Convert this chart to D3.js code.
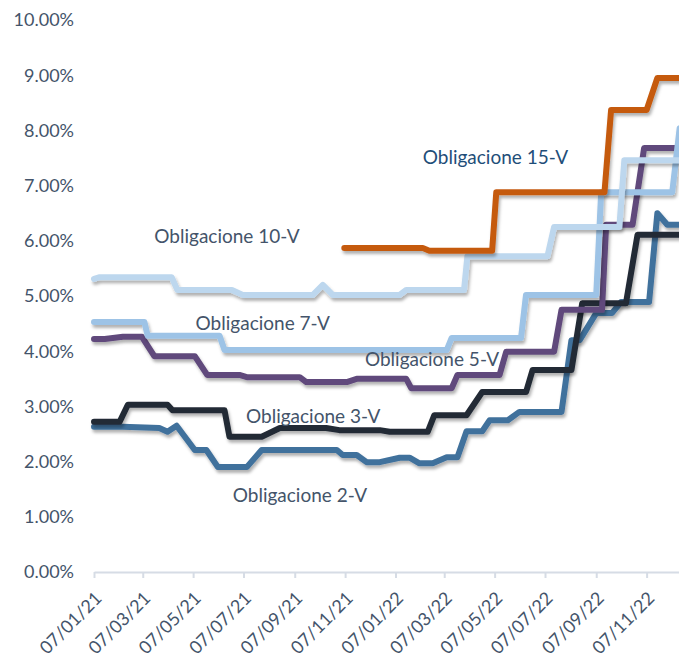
<!DOCTYPE html>
<html>
<head>
<meta charset="utf-8">
<script src="https://cdn.jsdelivr.net/npm/d3@7"></script>
<style>
  body { margin: 0; background: #fff; }
  svg text { font-family: Lato, "Open Sans", sans-serif; }
</style>
</head>
<body>
<div id="chart"></div>
<script>
// yields in %, [date, value]
var obl2V = [["2021-01-07",2.63],["2021-02-11",2.63],["2021-03-27",2.61],["2021-04-06",2.54],["2021-04-17",2.65],
  ["2021-05-09",2.21],["2021-05-23",2.21],["2021-06-06",1.90],["2021-07-11",1.90],["2021-07-29",2.21],
  ["2021-10-28",2.21],["2021-11-04",2.12],["2021-11-21",2.12],["2021-12-03",1.99],["2021-12-19",1.99],
  ["2022-01-12",2.07],["2022-01-24",2.07],["2022-02-05",1.97],["2022-02-21",1.97],["2022-03-10",2.08],
  ["2022-03-23",2.08],["2022-04-03",2.55],["2022-04-22",2.55],["2022-05-01",2.75],["2022-05-23",2.75],
  ["2022-06-06",2.90],["2022-07-27",2.90],["2022-08-08",4.20],["2022-08-18",4.20],["2022-09-07",4.69],
  ["2022-09-26",4.69],["2022-10-07",4.89],["2022-11-10",4.89],["2022-11-20",6.50],["2022-12-02",6.29],
  ["2022-12-29",6.29]];

var obl3V = [["2021-01-07",2.72],["2021-02-07",2.72],["2021-02-17",3.03],["2021-04-06",3.03],["2021-04-12",2.93],
  ["2021-06-14",2.93],["2021-06-20",2.45],["2021-07-29",2.45],["2021-08-20",2.61],["2021-10-15",2.61],
  ["2021-10-31",2.57],["2021-12-19",2.57],["2021-12-31",2.54],["2022-02-15",2.54],["2022-02-23",2.84],
  ["2022-04-03",2.84],["2022-04-22",3.26],["2022-06-14",3.26],["2022-06-22",3.66],["2022-08-08",3.66],
  ["2022-08-21",4.87],["2022-10-13",4.87],["2022-10-27",6.11],["2022-12-29",6.11]];

var obl5V = [["2021-01-07",4.22],["2021-01-20",4.22],["2021-02-11",4.26],["2021-03-06",4.26],["2021-03-21",3.91],
  ["2021-05-09",3.91],["2021-05-24",3.57],["2021-07-02",3.57],["2021-07-11",3.53],["2021-09-13",3.53],
  ["2021-09-21",3.44],["2021-11-09",3.44],["2021-11-21",3.50],["2022-01-20",3.50],["2022-01-26",3.33],
  ["2022-03-16",3.33],["2022-03-23",3.57],["2022-05-13",3.57],["2022-05-21",3.99],["2022-07-18",3.99],
  ["2022-07-27",4.75],["2022-09-14",4.75],["2022-09-19",6.29],["2022-10-21",6.29],["2022-11-04",7.68],
  ["2022-12-29",7.68]];

var obl7V = [["2021-01-07",4.53],["2021-03-09",4.53],["2021-03-13",4.28],["2021-06-08",4.28],["2021-06-14",4.02],
  ["2022-03-10",4.02],["2022-03-16",4.24],["2022-06-08",4.24],["2022-06-14",5.02],["2022-09-07",5.02],
  ["2022-09-13",6.88],["2022-12-08",6.88],["2022-12-17",8.04],["2022-12-29",8.04]];

var obl10V = [["2021-01-07",5.31],["2021-01-14",5.34],["2021-04-11",5.34],["2021-04-18",5.11],["2021-06-23",5.11],
  ["2021-07-06",5.02],["2021-09-29",5.02],["2021-10-11",5.20],["2021-10-23",5.02],["2022-01-12",5.02],
  ["2022-01-20",5.11],["2022-03-31",5.11],["2022-04-04",5.72],["2022-07-10",5.72],["2022-07-18",6.25],
  ["2022-10-05",6.25],["2022-10-11",7.46],["2022-12-29",7.46]];

var obl15V = [["2021-11-06",5.87],["2022-02-09",5.87],["2022-02-17",5.82],["2022-05-04",5.82],["2022-05-09",6.88],
  ["2022-09-17",6.88],["2022-09-25",8.37],["2022-11-07",8.37],["2022-11-20",8.95],["2022-12-29",8.95]];

var seriesNames = ["Obligacione 2-V", "Obligacione 3-V", "Obligacione 5-V",
                   "Obligacione 7-V", "Obligacione 10-V", "Obligacione 15-V"];
var xTickDates = ["2021-01-07","2021-03-07","2021-05-07","2021-07-07","2021-09-07","2021-11-07",
                  "2022-01-07","2022-03-07","2022-05-07","2022-07-07","2022-09-07","2022-11-07"];
var yTicks = [0, 1, 2, 3, 4, 5, 6, 7, 8, 9, 10];

var width = 679,
    height = 658;

var parse = d3.timeParse("%Y-%m-%d");

var seriesData = [obl2V, obl3V, obl5V, obl7V, obl10V, obl15V];
var colors = ["#41719C", "#222A35", "#604A7B", "#9DC3E6", "#BDD7EE", "#C55A11"];

// scales - time axis runs a bit past the right edge (picture is cropped)
var x = d3.scaleTime()
    .domain([parse("2021-01-07"), parse("2023-01-07")])
    .range([94, 697]);

var y = d3.scaleLinear()
    .domain([0, 10])
    .range([572, 20]);

var svg = d3.select("#chart")
    .append("svg")
    .attr("width", width)
    .attr("height", height);

var defs = svg.append("defs");
var shadow = defs.append("filter")
    .attr("id", "shadow")
    .attr("x", "-10%").attr("y", "-10%")
    .attr("width", "120%").attr("height", "130%");
shadow.append("feDropShadow")
    .attr("dx", 1.5)
    .attr("dy", 3)
    .attr("stdDeviation", 1.6)
    .attr("flood-color", "#000")
    .attr("flood-opacity", 0.3);

// y labels (no axis line)
svg.append("g")
    .selectAll("text")
    .data(yTicks)
    .enter()
    .append("text")
    .attr("x", 74)
    .attr("y", d => y(d))
    .attr("dy", "0.35em")
    .attr("text-anchor", "end")
    .style("font-size", "18px")
    .style("fill", "#44546A")
    .text(d => d.toFixed(2) + "%");

// x axis
var xAxis = d3.axisBottom(x)
    .tickValues(xTickDates.map(parse))
    .tickFormat(d3.timeFormat("%d/%m/%y"))
    .tickSize(6)
    .tickSizeOuter(0);

var gx = svg.append("g")
    .attr("transform", "translate(0," + y(0) + ")")
    .call(xAxis);

gx.select(".domain")
    .attr("stroke", "#D6DCE5")
    .attr("stroke-width", 2);
gx.selectAll(".tick line")
    .attr("stroke", "#D6DCE5")
    .attr("stroke-width", 2);
gx.selectAll(".tick text")
    .attr("x", 0)
    .attr("y", 0)
    .attr("dy", "0.35em")
    .attr("transform", "translate(4,23) rotate(-45)")
    .attr("text-anchor", "end")
    .style("font-size", "18px")
    .style("font-family", "Lato, 'Open Sans', sans-serif")
    .style("fill", "#44546A");

// lines
var line = d3.line()
    .x(d => x(parse(d[0])))
    .y(d => y(d[1]));

svg.append("g")
    .attr("class", "lines")
    .selectAll("path")
    .data(seriesData)
    .enter()
    .append("path")
    .attr("d", d => line(d))
    .style("fill", "none")
    .style("stroke", (d, i) => colors[i])
    .style("stroke-width", 6)
    .style("stroke-linejoin", "round")
    .style("stroke-linecap", "round")
    .attr("filter", "url(#shadow)");

// series labels, placed at [date, yield] spots
var labelSpots = [["2021-06-24", 1.27], ["2021-07-10", 2.70], ["2021-12-01", 3.73],
                  ["2021-05-10", 4.38], ["2021-03-21", 5.96], ["2022-02-09", 7.39]];
var labelColors = ["#44546A", "#44546A", "#44546A", "#44546A", "#44546A", "#1F4E79"];

svg.append("g")
    .selectAll("text")
    .data(seriesNames)
    .enter()
    .append("text")
    .attr("x", (d, i) => x(parse(labelSpots[i][0])))
    .attr("y", (d, i) => y(labelSpots[i][1]))
    .style("font-size", "19px")
    .style("fill", (d, i) => labelColors[i])
    .text(d => d);
</script>
</body>
</html>
